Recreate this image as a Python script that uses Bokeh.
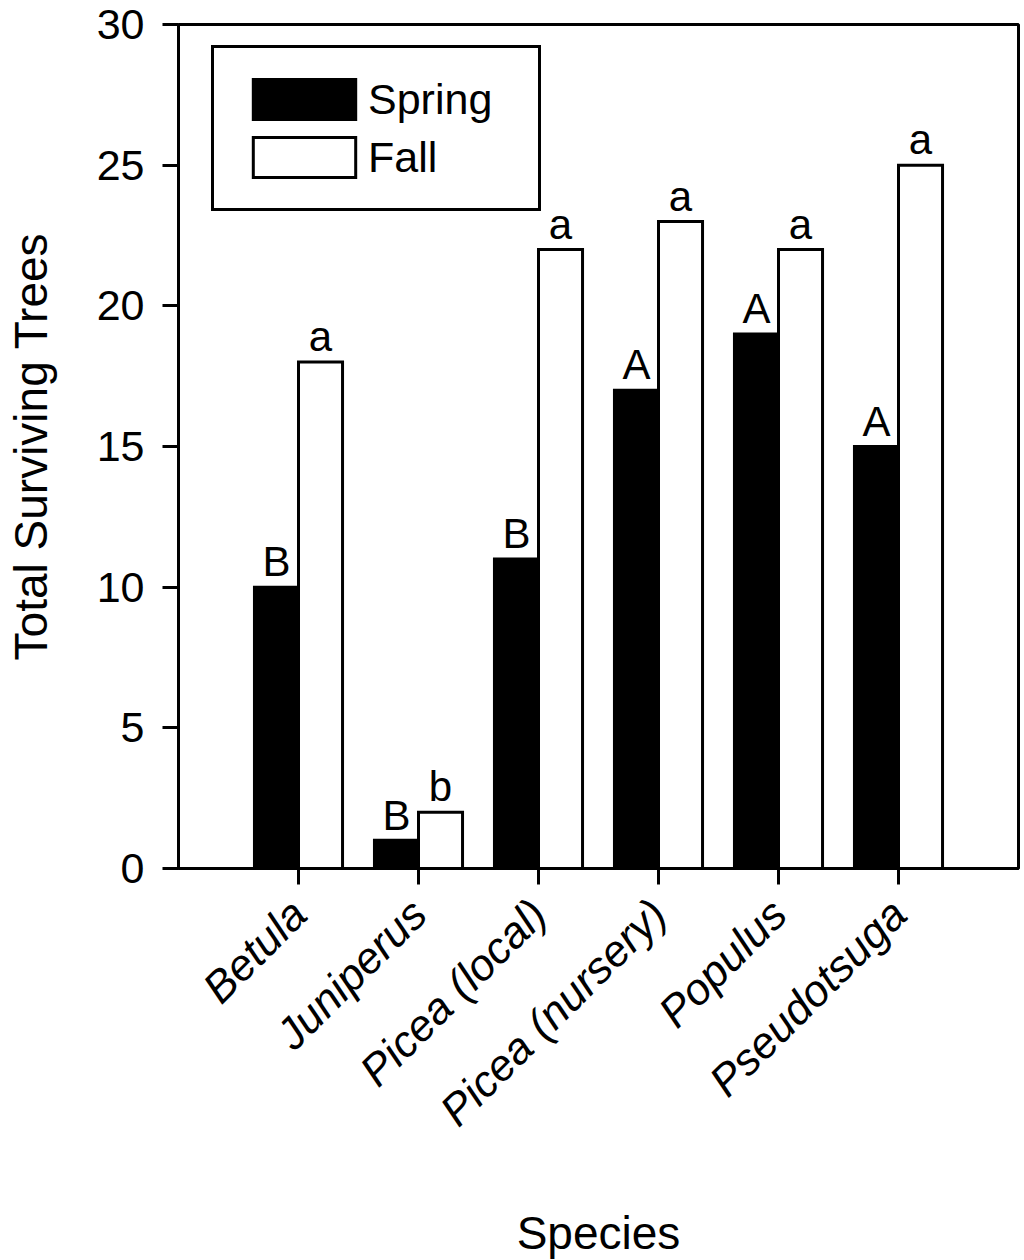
import math
from bokeh.plotting import figure
from bokeh.models import ColumnDataSource, FixedTicker, Legend, LegendItem
from bokeh.transform import dodge
from bokeh.core.properties import value
from bokeh.embed import file_html
from bokeh.resources import INLINE

species = ["Betula", "Juniperus", "Picea (local)", "Picea (nursery)", "Populus", "Pseudotsuga"]
spring = [10, 1, 11, 17, 19, 15]
fall = [18, 2, 22, 23, 22, 25]
spring_letters = ["B", "B", "B", "A", "A", "A"]
fall_letters = ["a", "b", "a", "a", "a", "a"]
y_ticks = [0, 5, 10, 15, 20, 25, 30]

FONT = "Liberation Sans"
FS = "43px"
FS_AXIS = "46px"
FS_LETTER = "42px"

positions = list(range(1, len(species) + 1))
src = ColumnDataSource(dict(pos=positions, spring=spring, fall=fall,
                            sl=spring_letters, fl=fall_letters))

p = figure(x_range=(0, 7), y_range=(0, 30), frame_width=840, frame_height=844,
           min_border_left=178, min_border_right=4, min_border_top=24,
           min_border_bottom=380, output_backend="svg", toolbar_location=None)

p.xgrid.visible = False
p.ygrid.visible = False
p.outline_line_color = "black"
p.outline_line_width = 3
p.outline_line_alpha = 1
p.background_fill_color = "white"
p.border_fill_color = "white"

BW = 0.367
r_spring = p.vbar(x=dodge("pos", -BW / 2), top="spring", bottom=0, width=BW, source=src,
                  fill_color="black", line_color="black", line_width=3, line_join="miter")
r_fall = p.vbar(x=dodge("pos", BW / 2), top="fall", bottom=0, width=BW, source=src,
                fill_color="white", line_color="black", line_width=3, line_join="miter")

p.text(x=dodge("pos", -BW / 2), y=dodge("spring", 0.9), text="sl", source=src,
       text_align="center", text_baseline="alphabetic", text_font=value(FONT),
       text_font_size=value(FS_LETTER), text_color="black")
p.text(x=dodge("pos", BW / 2), y=dodge("fall", 0.9), text="fl", source=src,
       text_align="center", text_baseline="alphabetic", text_font=value(FONT),
       text_font_size=value(FS_LETTER), text_color="black")

# axes
xa = p.xaxis[0]
xa.ticker = FixedTicker(ticks=positions)
xa.major_label_overrides = {pos: name for pos, name in zip(positions, species)}
xa.major_label_orientation = math.pi / 4
xa.major_label_text_font_style = "italic"
xa.axis_label = "Species"

ya = p.yaxis[0]
ya.ticker = FixedTicker(ticks=y_ticks)
ya.axis_label = "Total Surviving Trees"

for ax in (xa, ya):
    ax.axis_line_width = 3
    ax.axis_line_color = "black"
    ax.major_tick_line_width = 3
    ax.major_tick_line_color = "black"
    ax.major_tick_in = 0
    ax.major_tick_out = 16
    ax.minor_tick_line_color = None
    ax.major_label_text_font = FONT
    ax.major_label_text_font_size = FS
    ax.major_label_text_color = "black"
    ax.axis_label_text_font = FONT
    ax.axis_label_text_font_size = FS_AXIS
    ax.axis_label_text_font_style = "normal"
    ax.axis_label_text_color = "black"

xa.major_label_text_font_size = "44px"
xa.major_label_standoff = 22
xa.axis_label_standoff = 52
ya.major_label_standoff = 18
ya.axis_label_standoff = 37

legend = Legend(items=[LegendItem(label="Spring", renderers=[r_spring]),
                       LegendItem(label="Fall", renderers=[r_fall])],
                location=(33, 657), orientation="vertical")
legend.glyph_width = 128
legend.glyph_height = 50
legend.label_height = 50
legend.label_width = 144
legend.label_standoff = 0
legend.spacing = 8
legend.padding = 26
legend.margin = 0
legend.label_text_font = FONT
legend.label_text_font_size = FS
legend.label_text_color = "black"
legend.border_line_color = "black"
legend.border_line_alpha = 1
legend.border_line_width = 3
legend.background_fill_color = "white"
legend.background_fill_alpha = 1
p.add_layout(legend, "center")

open("out.html", "w").write(file_html(p, INLINE))
